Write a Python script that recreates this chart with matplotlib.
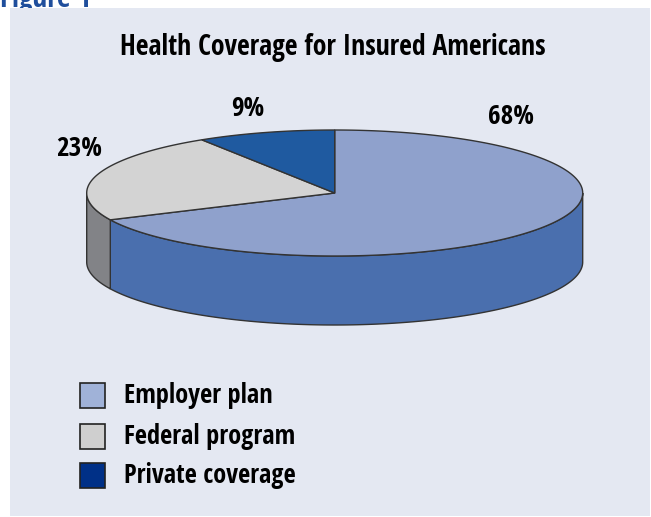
import numpy as np
import matplotlib
matplotlib.use("Agg")
import matplotlib.pyplot as plt
from matplotlib.patches import Polygon, Rectangle

plt.rcParams['font.family'] = ['Open Sans Condensed', 'DejaVu Sans']

categories = ["Employer plan", "Federal program", "Private coverage"]
shares = [68, 23, 9]
pct_labels = ["68%", "23%", "9%"]

top_colors = ["#8fa1cc", "#d3d3d3", "#1f5aa0"]
side_colors = ["#4a6fae", "#828387", "#163f7a"]
legend_colors = ["#a0b2d8", "#cfcfcf", "#003087"]
panel_bg = "#e4e8f2"
edge = "#333333"

W, H = 651, 517
fig = plt.figure(figsize=(W / 100, H / 100), dpi=100)
fig.patch.set_facecolor("white")
ax = fig.add_axes([0, 0, 1, 1])
ax.set_xlim(0, W)
ax.set_ylim(H, 0)
ax.axis("off")

# heading partly hidden behind the panel
ax.text(0, 7, "Figure 1", fontsize=21, fontweight="bold", color="#1f4e9c",
        ha="left", va="baseline", zorder=1)
ax.add_patch(Rectangle((10, 8), W - 11, H - 9, facecolor=panel_bg,
                       edgecolor="none", zorder=2))

ax.text(333, 47.5, "Health Coverage for Insured Americans", fontsize=20,
        fontweight="bold", ha="center", va="center", zorder=5)

# ellipse geometry of the pie (pixel units)
cx, cy, a, b, depth = 334.7, 193, 248, 63, 69


def pt(t):
    return cx + a * np.cos(t), cy - b * np.sin(t)


# slice angles: start at 12 o'clock and go clockwise
fracs = np.array(shares, dtype=float) / sum(shares)
starts = np.pi / 2 - 2 * np.pi * np.concatenate([[0], np.cumsum(fracs)[:-1]])
ends = starts - 2 * np.pi * fracs

# side walls, front half only
for s, e, col in zip(starts, ends, side_colors):
    lo, hi = min(s, e), max(s, e)
    # map to the range where the front half is [pi, 2pi]
    for shift in (0, 2 * np.pi, -2 * np.pi):
        l2, h2 = max(lo + shift, np.pi), min(hi + shift, 2 * np.pi)
        if h2 > l2:
            t = np.linspace(l2, h2, 200)
            x, y = pt(t)
            xs = np.concatenate([x, x[::-1]])
            ys = np.concatenate([y, y[::-1] + depth])
            ax.add_patch(Polygon(np.column_stack([xs, ys]), closed=True,
                                 facecolor=col, edgecolor=edge, lw=1.0,
                                 zorder=3))

# top faces
for s, e, col in zip(starts, ends, top_colors):
    t = np.linspace(s, e, 300)
    x, y = pt(t)
    xs = np.concatenate([[cx], x])
    ys = np.concatenate([[cy], y])
    ax.add_patch(Polygon(np.column_stack([xs, ys]), closed=True,
                         facecolor=col, edgecolor=edge, lw=1.0, zorder=4))

# percentage labels
label_pos = [(511, 117), (79, 148), (248, 108)]
for lab, (lx, ly) in zip(pct_labels, label_pos):
    ax.text(lx, ly, lab, fontsize=19.5, fontweight="bold", ha="center",
            va="center", zorder=5)

# legend
leg_y = [395.5, 436, 475.5]
for name, col, ly in zip(categories, legend_colors, leg_y):
    ax.add_patch(Rectangle((79.5, ly - 12.5), 25, 25, facecolor=col,
                           edgecolor="#222222", lw=1.2, zorder=5))
    ax.text(124, ly, name, fontsize=19, fontweight="bold", ha="left",
            va="center", zorder=5)

fig.savefig("out.png", dpi=100, facecolor=fig.get_facecolor())
